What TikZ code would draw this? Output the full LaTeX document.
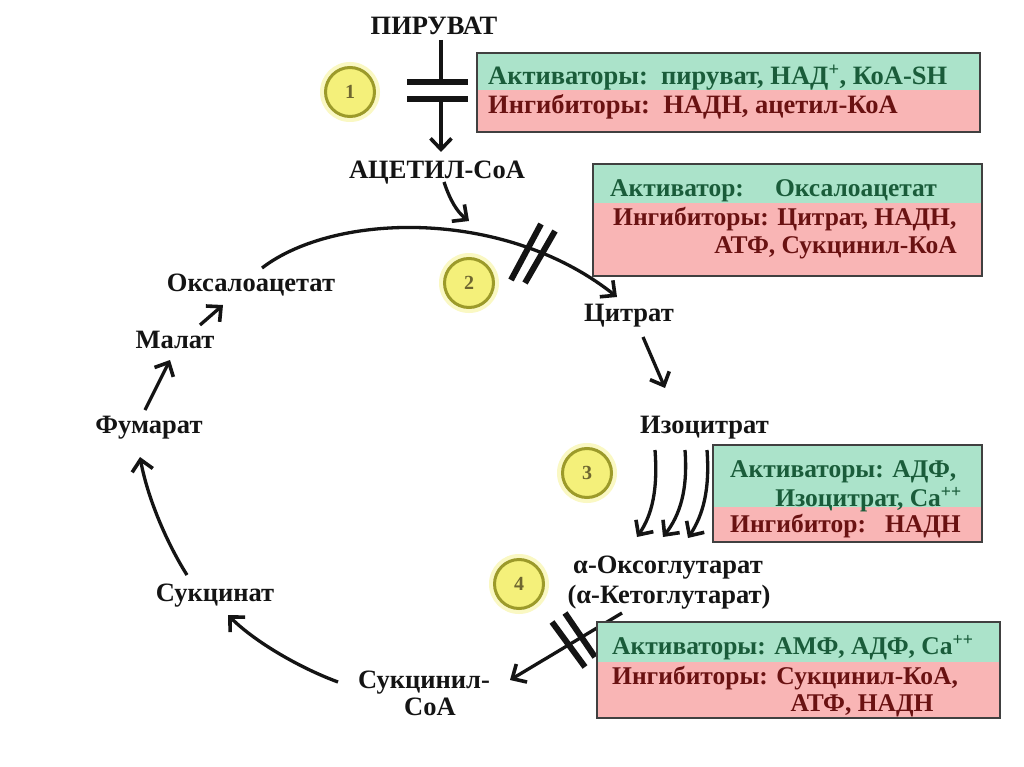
\documentclass[tikz,border=0pt]{standalone}
\usepackage{fontspec}
\setmainfont{Liberation Serif}
\usetikzlibrary{arrows.meta}
\definecolor{gbox}{HTML}{ABE3CA}
\definecolor{rbox}{HTML}{F9B5B5}
\definecolor{gtext}{HTML}{1A5C3A}
\definecolor{rtext}{HTML}{6A1212}
\definecolor{cfill}{HTML}{F4F07A}
\definecolor{cdraw}{HTML}{9C9A2A}
\definecolor{ctext}{HTML}{6E6630}
\definecolor{ink}{HTML}{141414}
\begin{document}
\begin{tikzpicture}[x=1pt,y=-1pt,
  txt/.style={font=\fontsize{26.5}{28}\selectfont\bfseries, inner sep=0pt, text height=17pt, text depth=0pt},
  btxt/.style={font=\fontsize{25.5}{28}\selectfont\bfseries, inner sep=0pt, text height=17pt, text depth=0pt},
  lbl/.style={txt, text=ink},
  gl/.style={btxt, text=gtext},
  rl/.style={btxt, text=rtext},
  gla/.style={txt, text=gtext},
  rla/.style={txt, text=rtext},
  num/.style={circle, draw=cdraw, line width=3pt, fill=cfill, minimum size=49pt, inner sep=0pt,
    font=\fontsize{20}{20}\selectfont\bfseries, text=ctext},
  halo/.style={fill=cfill!45},
  arr/.style={draw=ink, line width=3.3pt, -{Straight Barb[length=11pt,width=21pt,line width=3.6pt]}},
  ln/.style={draw=ink, line width=3.3pt},
  barl/.style={draw=ink, line width=6pt},
  frame/.style={draw=black!75, line width=1.8pt}
]
\useasboundingbox (0,0) rectangle (1024,767);
\fill[white] (0,0) rectangle (1024,767);

% ---------- labels ----------
\node[lbl] (pyr) at (434,26) {ПИРУВАТ};
\node[lbl] (acoa) at (437,170) {АЦЕТИЛ-СоА};
\node[lbl] (oxa) at (251,283) {Оксалоацетат};
\node[lbl] (mal) at (175,340) {Малат};
\node[lbl] (fum) at (149,425) {Фумарат};
\node[lbl] (suc) at (215,593) {Сукцинат};
\node[lbl] (scoa1) at (424,680) {Сукцинил-};
\node[lbl] (scoa2) at (430,707) {СоА};
\node[lbl] (cit) at (629,313) {Цитрат};
\node[lbl, anchor=west] (iso) at (640,425) {Изоцитрат};
\node[lbl] (akg1) at (668,565) {α-Оксоглутарат};
\node[lbl] (akg2) at (669,595) {(α-Кетоглутарат)};

% ---------- numbered circles ----------
\fill[halo] (350,92) circle (30pt);
\fill[halo] (469,283) circle (30pt);
\fill[halo] (587,473) circle (30pt);
\fill[halo] (519,584) circle (30pt);
\node[num] (c1) at (350,92) {1};
\node[num] (c2) at (469,283) {2};
\node[num] (c3) at (587,473) {3};
\node[num] (c4) at (519,584) {4};

% ---------- coordinates ----------
\coordinate (p0) at (441,40);
\coordinate (p1) at (441,82);
\coordinate (p2) at (441,99);
\coordinate (p3) at (441,152);
\coordinate (q0) at (444,182);
\coordinate (q1) at (469,221);
\coordinate (r0) at (262,268);
\coordinate (r1) at (617,297);
\coordinate (s0) at (643,337);
\coordinate (s1) at (665,388);
\coordinate (t0) at (622,613);
\coordinate (t1) at (510,680);

% ---------- step 1 ----------
\draw[ln] (p0) -- (p1);
\draw[barl] (407,82) -- (468,82);
\draw[barl] (407,99) -- (468,99);
\draw[arr] (p2) -- (p3);

% ---------- step 2 ----------
\draw[arr] (q0) .. controls (450,200) and (457,212) .. (q1);
\draw[arr] (r0) .. controls (335,212) and (505,208) .. (r1);
\draw[barl] (511,280) -- (541,224);
\draw[barl] (525,283) -- (555,231);

% ---------- citrate -> isocitrate ----------
\draw[arr] (s0) -- (s1);

% ---------- step 3 ----------
\draw[arr] (655,450) .. controls (658,490) and (652,515) .. (637,537);
\draw[arr] (685,450) .. controls (688,490) and (680,515) .. (663,537);
\draw[arr] (707,450) .. controls (710,490) and (703,515) .. (688,538);

% ---------- step 4 ----------
\draw[arr] (t0) -- (t1);
\draw[barl] (552,622) -- (585,667);
\draw[barl] (565,613) -- (595,657);

% ---------- remaining cycle ----------
\draw[arr] (338,682) .. controls (300,668) and (255,642) .. (228,615);
\draw[arr] (187,575) .. controls (168,545) and (148,500) .. (140,457);
\draw[arr] (145,410) -- (170,360);
\draw[arr] (200,325) -- (223,305);

% ---------- box 1 ----------
\fill[gbox] (477,53) rectangle (980,90);
\fill[rbox] (477,90) rectangle (980,132);
\draw[frame] (477,53) rectangle (980,132);
\node[gla, anchor=west] (b1a) at (488,76) {Активаторы:\ \ пируват, НАД\textsuperscript{+}, КоА-SH};
\node[rla, anchor=west] (b1i) at (488,105) {Ингибиторы:\ \ НАДН, ацетил-КоА};

% ---------- box 2 ----------
\fill[gbox] (593,164) rectangle (982,203);
\fill[rbox] (593,203) rectangle (982,276);
\draw[frame] (593,164) rectangle (982,276);
\node[gl, anchor=west] (b2a) at (610,188) {Активатор:};
\node[gl, anchor=east] (b2b) at (937,188) {Оксалоацетат};
\node[rl, anchor=west] (b2i) at (613,217) {Ингибиторы: Цитрат, НАДН,};
\node[rl, anchor=east] (b2j) at (957,245) {АТФ, Сукцинил-КоА};

% ---------- box 3 ----------
\fill[gbox] (713,445) rectangle (982,507);
\fill[rbox] (713,507) rectangle (982,542);
\draw[frame] (713,445) rectangle (982,542);
\node[gl, anchor=west] (b3a) at (730,469) {Активаторы: АДФ,};
\node[gl, anchor=east] (b3b) at (962,498) {Изоцитрат, Ca\textsuperscript{++}};
\node[rl, anchor=west] (b3i) at (730,524) {Ингибитор:\ \ \ НАДН};

% ---------- box 4 ----------
\fill[gbox] (597,622) rectangle (1000,662);
\fill[rbox] (597,662) rectangle (1000,718);
\draw[frame] (597,622) rectangle (1000,718);
\node[gl, anchor=west] (b4a) at (612,646) {Активаторы: АМФ, АДФ, Ca\textsuperscript{++}};
\node[rl, anchor=west] (b4i) at (612,676) {Ингибиторы: Сукцинил-КоА,};
\node[rl] (b4j) at (862,703) {АТФ, НАДН};
\end{tikzpicture}
\end{document}
